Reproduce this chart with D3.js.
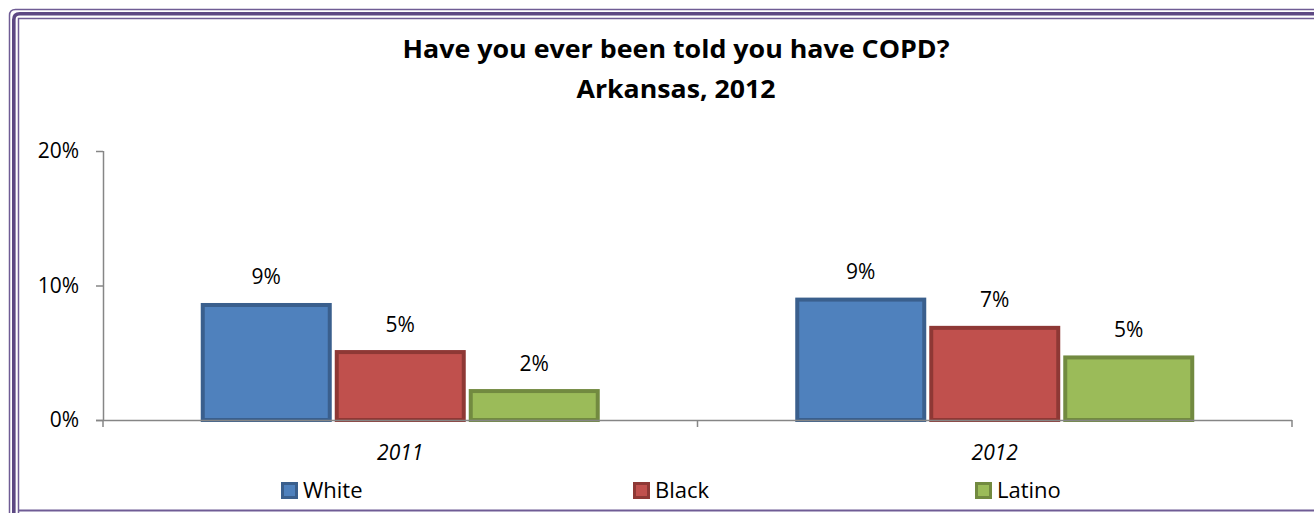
<!DOCTYPE html>
<html><head><meta charset="utf-8">
<script src="https://cdn.jsdelivr.net/npm/d3@7"></script>
<style>body{margin:0;background:#fff}svg{display:block}text{font-family:"Open Sans",sans-serif}</style>
</head><body>
<svg id="c" width="1314" height="513"></svg>
<script>
const titleLines = ["Have you ever been told you have COPD?", "Arkansas, 2012"];
const categories = ["2011", "2012"];
const seriesNames = ["White", "Black", "Latino"];
const white = [8.7, 9.1];
const black = [5.2, 7.0];
const latino = [2.3, 4.8];
const dataLabels = [["9%", "9%"], ["5%", "7%"], ["2%", "5%"]];
const yTicks = [0, 10, 20];
const yTickLabels = ["0%", "10%", "20%"];

const fills = ["#4F81BD", "#C0504D", "#9BBB59"];
const strokes = ["#3A5F8D", "#8E3835", "#728A40"];
const series = [white, black, latino];

const svg = d3.select("#c");
const W = 1314, H = 513;

// frame
const fr = svg.append("g").attr("fill", "none");
function framePath(o) {
  const r = 6;
  return `M${o},${H + 10} L${o},${o + r} Q${o},${o} ${o + r},${o} L${W + 10},${o}`;
}
fr.append("path").attr("d", framePath(9.5)).attr("stroke", "#6f5c95").attr("stroke-width", 1.5);
fr.append("path").attr("d", framePath(13.8)).attr("stroke", "#5d4883").attr("stroke-width", 3.6);
fr.append("path").attr("d", `M18.5,${H + 10} L18.5,18.5 L${W + 10},18.5`).attr("stroke", "#6f5c95").attr("stroke-width", 1.5);
fr.append("line").attr("x1", 18).attr("x2", W + 10).attr("y1", 510.5).attr("y2", 510.5).attr("stroke", "#6f5c95").attr("stroke-width", 2);

// title
svg.append("text").attr("x", 676).attr("y", 58).attr("text-anchor", "middle")
  .attr("font-size", 25.5).attr("font-weight", "bold")
  .attr("textLength", 547).attr("lengthAdjust", "spacingAndGlyphs").text(titleLines[0]);
svg.append("text").attr("x", 676).attr("y", 98).attr("text-anchor", "middle")
  .attr("font-size", 25.5).attr("font-weight", "bold")
  .attr("textLength", 199).attr("lengthAdjust", "spacingAndGlyphs").text(titleLines[1]);

const x0 = 103, x1 = 1292, y0 = 420, yTop = 151;
const x = d3.scaleBand().domain(categories).range([x0, x1]).paddingInner(0).paddingOuter(0);
const y = d3.scaleLinear().domain([0, 20]).range([y0, yTop]);
const pitch = 134, barW = 131;
const xs = d3.scaleBand().domain(seriesNames).range([0, pitch * 3]);

// y axis
const gy = svg.append("g").attr("transform", `translate(${x0},0)`)
  .call(d3.axisLeft(y).tickValues(yTicks).tickSize(7).tickFormat((d, i) => yTickLabels[i]));
gy.select(".domain").attr("stroke", "#868686").attr("stroke-width", 1.5).attr("d", `M0.5,${yTop}V${y0}`);
gy.selectAll(".tick line").attr("stroke", "#868686").attr("stroke-width", 1.5);
gy.selectAll(".tick text").attr("font-size", 21).attr("fill", "#000").attr("x", -24)
  .attr("font-family", "'Open Sans',sans-serif");

// bars
categories.forEach((c, ci) => {
  const gx = x(c) + (x.bandwidth() - (pitch * 3 - (pitch - barW))) / 2;
  series.forEach((s, si) => {
    const bx = gx + xs(seriesNames[si]);
    svg.append("rect").attr("x", bx + 2).attr("y", y(s[ci]) + 2)
      .attr("width", barW - 4).attr("height", y0 - y(s[ci]) - 2)
      .attr("fill", fills[si]).attr("stroke", strokes[si]).attr("stroke-width", 4);
    svg.append("text").attr("x", bx + barW / 2).attr("y", y(s[ci]) - 18.5)
      .attr("text-anchor", "middle").attr("font-size", 21).text(dataLabels[si][ci]);
  });
});

// x axis
const gx = svg.append("g").attr("transform", `translate(0,${y0})`);
gx.append("line").attr("x1", x0 - 7).attr("x2", x1).attr("y1", 0.5).attr("y2", 0.5)
  .attr("stroke", "#868686").attr("stroke-width", 1.5);
[x0, x0 + x.bandwidth(), x1].forEach(t => {
  gx.append("line").attr("x1", t).attr("x2", t).attr("y1", 0).attr("y2", 7)
    .attr("stroke", "#868686").attr("stroke-width", 1.5);
});
categories.forEach(c => {
  gx.append("text").attr("x", x(c) + x.bandwidth() / 2).attr("y", 40).attr("text-anchor", "middle")
    .attr("font-size", 21).attr("font-style", "italic").text(c);
});

// legend
const legX = [281, 633, 975];
seriesNames.forEach((n, i) => {
  const g = svg.append("g").attr("transform", `translate(${legX[i]},482)`);
  g.append("rect").attr("x", 1.5).attr("y", 1.5).attr("width", 14).attr("height", 14)
    .attr("fill", fills[i]).attr("stroke", strokes[i]).attr("stroke-width", 3);
  g.append("text").attr("x", 22).attr("y", 16).attr("font-size", 22).text(n);
});
</script>
</body></html>
